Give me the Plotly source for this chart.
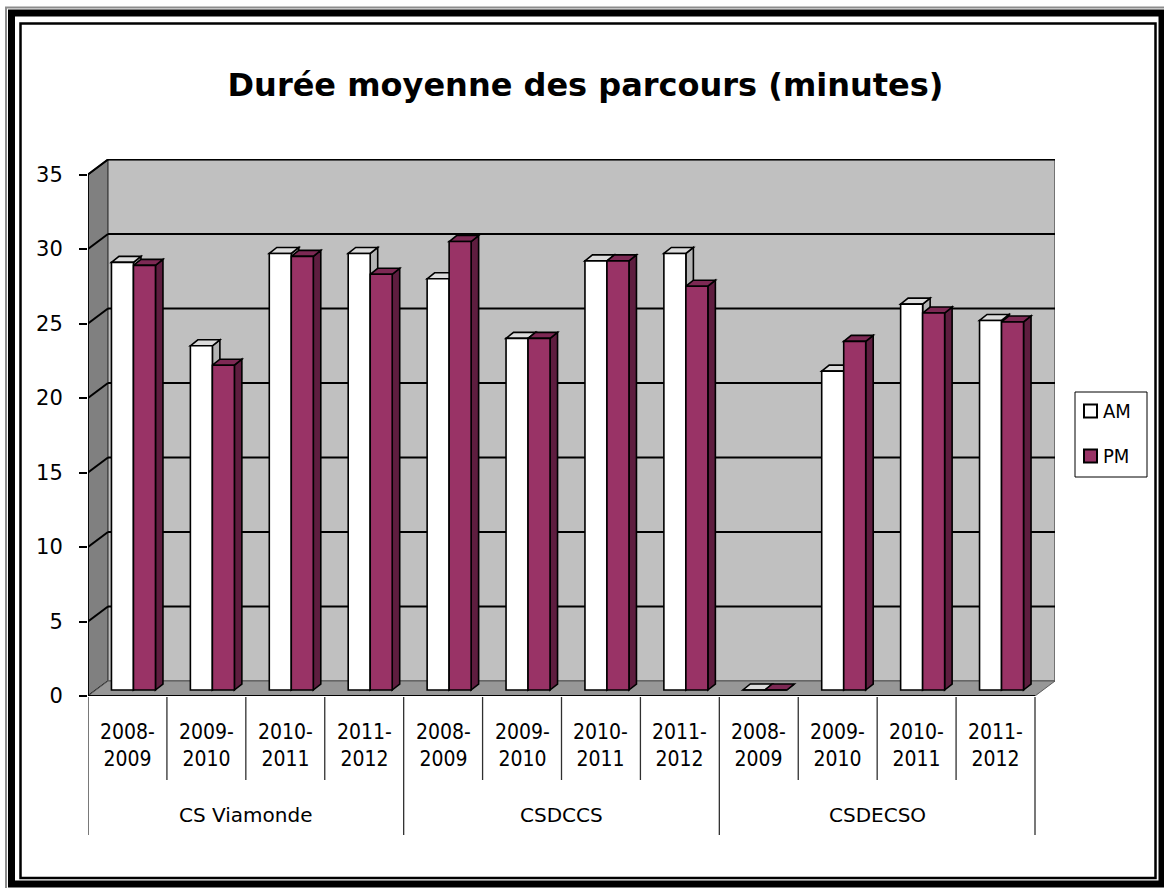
import plotly.graph_objects as go

# ---------------- data ----------------
groups = ["CS Viamonde", "CSDCCS", "CSDECSO"]
years = ["2008-2009", "2009-2010", "2010-2011", "2011-2012"]
am_values = [28.7, 23.1, 29.3, 29.3,   27.6, 23.6, 28.8, 29.3,   0.0, 21.4, 25.9, 24.8]
pm_values = [28.5, 21.8, 29.1, 27.9,   30.1, 23.6, 28.8, 27.1,   0.0, 23.4, 25.3, 24.7]
y_ticks = [0, 5, 10, 15, 20, 25, 30, 35]
series_names = ["AM", "PM"]
title_text = "Durée moyenne des parcours (minutes)"

categories = [f"{g} {y}" for g in groups for y in years]
n = len(categories)

# ---------------- geometry / style ----------------
PAGE_OFF = 0                      # body margin removed by post_script
W_PX, H_PX = 1164 - 2 * PAGE_OFF, 888 - 2 * PAGE_OFF
L, T = 88 - PAGE_OFF, 159 - PAGE_OFF
PW = 967            # plot width px
PH = 537            # plot height px
R = W_PX - L - PW
B = H_PX - T - PH
cat_px = (1035 - 88) / 12.0
unit_px = 14.9
x_range = [-0.5, -0.5 + PW / cat_px]
y_range = [0, PH / unit_px]
bar_shift = 6 / unit_px
y2_range = [y_range[0] - bar_shift, y_range[1] - bar_shift]

wdx = 20 / cat_px      # wall depth
wdy = 15 / unit_px
cdx = 7.5 / cat_px     # bar depth
cdy = 6 / unit_px
bw = 22 / cat_px       # bar width
off_am = 6 / cat_px - bw
off_pm = 6 / cat_px

FONT = "DejaVu Sans, Verdana, sans-serif"
FONT_C = "DejaVu Sans Condensed, DejaVu Sans, sans-serif"
PM_FACE, PM_TOP, PM_SIDE = "#993366", "#7d2954", "#5e1d3f"
AM_FACE, AM_TOP, AM_SIDE = "#ffffff", "#dcdcdc", "#b4b4b4"


def xp(px):
    """page pixel x -> paper x"""
    return (px - PAGE_OFF - L) / PW


def yp(py):
    """page pixel y -> paper y"""
    return (T + PH - (py - PAGE_OFF)) / PH


def poly(pts):
    return "M " + " L ".join(f"{a:.5f},{b:.5f}" for a, b in pts) + " Z"


shapes = []

# outer decorative frame
shapes.append(dict(type="rect", xref="paper", yref="paper", layer="above",
                   x0=xp(6), x1=xp(1175), y0=yp(7.5), y1=yp(900),
                   line=dict(color="#8c8c8c", width=2), fillcolor="rgba(0,0,0,0)"))
shapes.append(dict(type="rect", xref="paper", yref="paper", layer="above",
                   x0=xp(11.5), x1=xp(1162), y0=yp(13), y1=yp(884),
                   line=dict(color="#000000", width=7), fillcolor="rgba(0,0,0,0)"))
shapes.append(dict(type="rect", xref="paper", yref="paper", layer="above",
                   x0=xp(20.5), x1=xp(1155.5), y0=yp(23.5), y1=yp(878),
                   line=dict(color="#000000", width=2.5), fillcolor="rgba(0,0,0,0)"))

x_left = x_range[0]
x_right_front = n - 0.5
top = y_ticks[-1]

# walls and floor
shapes.append(dict(type="path", xref="x", yref="y", layer="below",
                   path=poly([(x_left, 0), (x_left + wdx, wdy), (x_left + wdx, top + wdy), (x_left, top)]),
                   fillcolor="#808080", line=dict(color="#000000", width=1.5)))
shapes.append(dict(type="path", xref="x", yref="y", layer="below",
                   path=poly([(x_left + wdx, wdy), (x_right_front + wdx, wdy),
                              (x_right_front + wdx, top + wdy), (x_left + wdx, top + wdy)]),
                   fillcolor="#c0c0c0", line=dict(color="#5a5a5a", width=1.5)))
shapes.append(dict(type="path", xref="x", yref="y", layer="below",
                   path=poly([(x_left, 0), (x_right_front, 0), (x_right_front + wdx, wdy), (x_left + wdx, wdy)]),
                   fillcolor="#979797", line=dict(color="#5a5a5a", width=1)))
# gridlines on back wall + left wall
for v in y_ticks[1:]:
    shapes.append(dict(type="line", xref="x", yref="y", layer="below",
                       x0=x_left + wdx, x1=x_right_front + wdx, y0=v + wdy, y1=v + wdy,
                       line=dict(color="#000000", width=2)))
    shapes.append(dict(type="line", xref="x", yref="y", layer="below",
                       x0=x_left, x1=x_left + wdx, y0=v, y1=v + wdy,
                       line=dict(color="#000000", width=2)))
# front floor edge (x axis line) and left axis line
shapes.append(dict(type="line", xref="x", yref="y", layer="below",
                   x0=x_left, x1=x_right_front, y0=0, y1=0,
                   line=dict(color="#000000", width=2)))
shapes.append(dict(type="line", xref="x", yref="y", layer="below",
                   x0=x_left, x1=x_left, y0=0, y1=top,
                   line=dict(color="#000000", width=1.5)))

# 3-D caps and side faces of bars
for vals, off, topc, sidec in [(am_values, off_am, AM_TOP, AM_SIDE), (pm_values, off_pm, PM_TOP, PM_SIDE)]:
    for i, v in enumerate(vals):
        x0 = i + off
        x1 = x0 + bw
        shapes.append(dict(type="path", xref="x", yref="y2", layer="below",
                           path=poly([(x1, 0), (x1 + cdx, cdy), (x1 + cdx, v + cdy), (x1, v)]),
                           fillcolor=sidec, line=dict(color="#000000", width=1.6)))
        shapes.append(dict(type="path", xref="x", yref="y2", layer="below",
                           path=poly([(x0, v), (x0 + cdx, v + cdy), (x1 + cdx, v + cdy), (x1, v)]),
                           fillcolor=topc, line=dict(color="#000000", width=1.6)))

# category dividers below the axis
for k in range(n + 1):
    is_group = (k % len(years) == 0)
    shapes.append(dict(type="line", xref="x", yref="paper", layer="above",
                       x0=k - 0.5, x1=k - 0.5, y0=yp(697), y1=yp(835 if is_group else 780),
                       line=dict(color="#303030", width=1.3)))

annotations = []
for i, c in enumerate(categories):
    yr = years[i % len(years)]
    a, b = yr.split("-")
    annotations.append(dict(x=i, y=yp(745), xref="x", yref="paper", showarrow=False,
                            text=f"{a}-<br>{b}", align="center", yanchor="middle",
                            font=dict(family=FONT_C, size=21, color="#000000")))
for gi, g in enumerate(groups):
    annotations.append(dict(x=gi * len(years) + (len(years) - 1) / 2.0, y=yp(815), xref="x", yref="paper",
                            showarrow=False, text=g, yanchor="middle",
                            font=dict(family=FONT, size=20, color="#000000")))

# manual legend (box, swatches, labels)
shapes.append(dict(type="rect", xref="paper", yref="paper", layer="above",
                   x0=xp(1075), x1=xp(1147), y0=yp(392), y1=yp(477),
                   line=dict(color="#000000", width=1), fillcolor="#ffffff"))
for name, col, cy in [(series_names[0], AM_FACE, 411), (series_names[1], PM_FACE, 456)]:
    shapes.append(dict(type="rect", xref="paper", yref="paper", layer="above",
                       x0=xp(1084), x1=xp(1097), y0=yp(cy - 6.5), y1=yp(cy + 6.5),
                       line=dict(color="#000000", width=2), fillcolor=col))
    annotations.append(dict(x=xp(1101), y=yp(cy), xref="paper", yref="paper", showarrow=False,
                            text=name, xanchor="left", yanchor="middle",
                            font=dict(family=FONT_C, size=20, color="#000000")))

fig = go.Figure()
fig.add_trace(go.Bar(x=categories, y=am_values, name=series_names[0], yaxis="y2", width=bw, offset=off_am,
                     marker=dict(color=AM_FACE, line=dict(color="#000000", width=1.6))))
fig.add_trace(go.Bar(x=categories, y=pm_values, name=series_names[1], yaxis="y2", width=bw, offset=off_pm,
                     marker=dict(color=PM_FACE, line=dict(color="#000000", width=1.6))))

fig.update_layout(
    width=W_PX, height=H_PX,
    margin=dict(l=L, r=R, t=T, b=B, autoexpand=False),
    paper_bgcolor="#ffffff", plot_bgcolor="#ffffff",
    barmode="overlay",
    showlegend=False,
    title=dict(text=f"<b>{title_text}</b>", x=(585.5 - PAGE_OFF) / W_PX, xanchor="center", xref="container",
               y=1 - (85 - PAGE_OFF) / H_PX, yanchor="middle", yref="container",
               font=dict(family=FONT, size=32, color="#000000")),
    xaxis=dict(type="category", range=x_range, showticklabels=False, showgrid=False,
               zeroline=False, showline=False, ticks=""),
    yaxis=dict(range=y_range, tickvals=y_ticks, ticks="outside", ticklen=8, tickwidth=1.5,
               tickcolor="#000000", showgrid=False, zeroline=False, showline=False,
               ticklabelstandoff=12,
               tickfont=dict(family=FONT, size=21, color="#000000")),
    yaxis2=dict(range=y2_range, overlaying="y", visible=False, showgrid=False),
    shapes=shapes,
    annotations=annotations,
)

fig.write_html("out.html", config={"displayModeBar": False},
               post_script="document.body.style.margin='0';document.body.style.overflow='hidden';")
